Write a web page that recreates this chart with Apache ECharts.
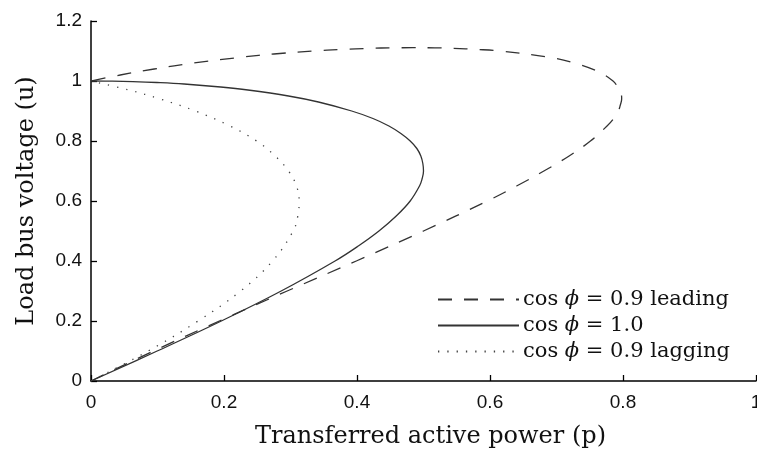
<!DOCTYPE html>
<html>
<head>
<meta charset="utf-8">
<script src="https://cdn.jsdelivr.net/npm/echarts@6/dist/echarts.min.js"></script>
<style>html,body{margin:0;padding:0;background:#fff}#c{width:757px;height:452px}</style>
</head>
<body>
<div id="c"></div>
<script>
// Tick labels
var xTicks = [0, 0.2, 0.4, 0.6, 0.8, 1];
var yTicks = [0, 0.2, 0.4, 0.6, 0.8, 1, 1.2];

// cos phi = 0.9 leading (dashed)
var leadingP = [0, 0.094, 0.193, 0.295, 0.399, 0.500, 0.596, 0.640, 0.681, 0.719, 0.751, 0.776, 0.786, 0.793, 0.796, 0.798, 0.797, 0.792, 0.785, 0.764, 0.727, 0.686, 0.614, 0.583, 0.544, 0.517, 0.484, 0.451, 0.421, 0.375, 0.335, 0.275, 0.229, 0.155, 0.095, 0.044, 0];
var leadingV = [0, 0.1, 0.2, 0.3, 0.4, 0.5, 0.6, 0.65, 0.7, 0.75, 0.8, 0.85, 0.875, 0.9, 0.92, 0.94, 0.96, 0.98, 1.0, 1.03, 1.06, 1.08, 1.1, 1.105, 1.109, 1.1105, 1.111, 1.1105, 1.109, 1.105, 1.1, 1.09, 1.08, 1.06, 1.04, 1.02, 1.0];

// cos phi = 1.0 (solid)
var unityP = [0, 0.0995, 0.196, 0.286, 0.367, 0.402, 0.433, 0.459, 0.480, 0.494, 0.498, 0.500, 0.499, 0.496, 0.490, 0.480, 0.466, 0.448, 0.424, 0.392, 0.342, 0.297, 0.236, 0.195, 0.140, 0.099, 0.063, 0.032, 0];
var unityV = [0, 0.1, 0.2, 0.3, 0.4, 0.45, 0.5, 0.55, 0.6, 0.65, 0.675, 0.7, 0.725, 0.75, 0.775, 0.8, 0.825, 0.85, 0.875, 0.9, 0.93, 0.95, 0.97, 0.98, 0.99, 0.995, 0.998, 0.9995, 1.0];

// cos phi = 0.9 lagging (dotted)
var laggingP = [0, 0.086, 0.161, 0.225, 0.273, 0.304, 0.311, 0.313, 0.309, 0.297, 0.277, 0.249, 0.209, 0.157, 0.104, 0.057, 0];
var laggingV = [0, 0.1, 0.2, 0.3, 0.4, 0.5, 0.55, 0.6, 0.65, 0.7, 0.75, 0.8, 0.85, 0.9, 0.94, 0.97, 1.0];

var seriesNames = ['leading', 'unity', 'lagging'];

function zip(a, b) { return a.map(function (v, i) { return [v, b[i]]; }); }

var chart = echarts.init(document.getElementById('c'));
var serif = 'DejaVu Serif';
var sans = 'Liberation Sans';
var legendText = {
  leading: '{n|cos }{i|\u03d5}{n| = 0.9 leading}',
  unity: '{n|cos }{i|\u03d5}{n| = 1.0}',
  lagging: '{n|cos }{i|\u03d5}{n| = 0.9 lagging}'
};

chart.setOption({
  animation: false,
  backgroundColor: '#fff',
  grid: { left: 91, top: 21, width: 665, height: 360, outerBoundsMode: 'none', containLabel: false },
  xAxis: {
    type: 'value', min: 0, max: 1, interval: 0.2,
    name: 'Transferred active power (p)', nameLocation: 'middle', nameGap: 44,
    nameTextStyle: { fontFamily: serif, fontSize: 24, color: '#111', padding: [0, 0, 0, 14] },
    axisLine: { show: true, lineStyle: { color: '#000', width: 1.5 } },
    axisTick: { show: true, inside: true, length: 6, lineStyle: { color: '#000', width: 1.3 } },
    axisLabel: { fontFamily: sans, fontSize: 19, color: '#111', margin: 12,
      formatter: function (v) { return String(xTicks.find(function (t) { return Math.abs(t - v) < 1e-9; })); } },
    splitLine: { show: false }
  },
  yAxis: {
    type: 'value', min: 0, max: 1.2, interval: 0.2,
    name: 'Load bus voltage (u)', nameLocation: 'middle', nameGap: 52,
    nameTextStyle: { fontFamily: serif, fontSize: 24, color: '#111' },
    axisLine: { show: true, lineStyle: { color: '#000', width: 1.5 } },
    axisTick: { show: true, inside: true, length: 6, lineStyle: { color: '#000', width: 1.3 } },
    axisLabel: { fontFamily: sans, fontSize: 19, color: '#111', margin: 9,
      formatter: function (v) { return String(yTicks.find(function (t) { return Math.abs(t - v) < 1e-9; })); } },
    splitLine: { show: false }
  },
  legend: {
    orient: 'vertical', left: 437, top: 289, itemWidth: 81, itemHeight: 14, itemGap: 5, padding: 0,
    data: seriesNames,
    itemStyle: { opacity: 0 },
    formatter: function (name) { return legendText[name]; },
    textStyle: {
      padding: [0, 0, 0, -1],
      rich: {
        n: { fontFamily: serif, fontSize: 21, color: '#111' },
        i: { fontFamily: serif, fontSize: 21, fontStyle: 'italic', color: '#111' }
      }
    }
  },
  series: [
    { name: 'leading', type: 'line', data: zip(leadingP, leadingV), smooth: 0.4, symbol: 'none',
      lineStyle: { color: '#333', width: 1.3, type: [14, 12] }, itemStyle: { color: '#333' } },
    { name: 'unity', type: 'line', data: zip(unityP, unityV), smooth: 0.4, symbol: 'none',
      lineStyle: { color: '#333', width: 1.3, type: 'solid' }, itemStyle: { color: '#333' } },
    { name: 'lagging', type: 'line', data: zip(laggingP, laggingV), smooth: 0.4, symbol: 'none',
      lineStyle: { color: '#444', width: 1.3, type: [1.3, 8] }, itemStyle: { color: '#444' } }
  ]
});
</script>
</body>
</html>
